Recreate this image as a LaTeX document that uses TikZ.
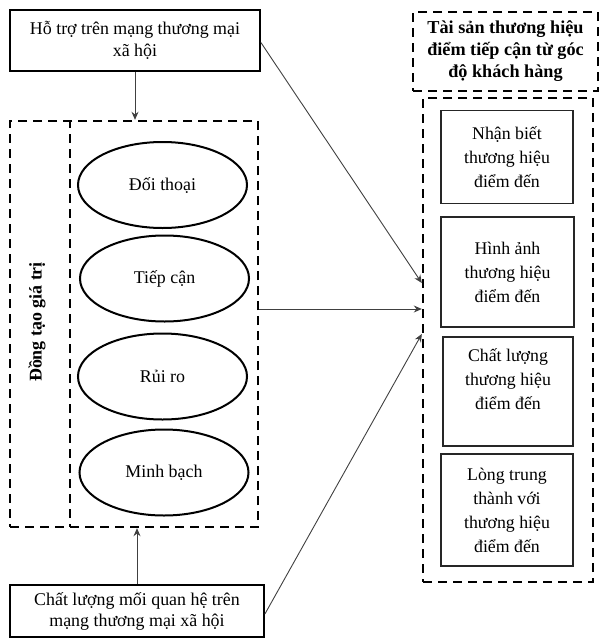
\documentclass[tikz,border=0pt]{standalone}
\usepackage{fontspec}
\setmainfont{Liberation Serif}
\usetikzlibrary{arrows.meta,shapes.geometric}
\begin{document}
\begin{tikzpicture}[x=1pt,y=-1pt,
  txt/.style={font=\fontsize{17.9}{22}\selectfont, align=center},
  solidbox/.style={draw=black, line width=1.8pt, inner sep=0pt, txt},
  thinbox/.style={draw=black!85, line width=1.1pt, inner sep=0pt, txt, font=\fontsize{17.8}{24}\selectfont},
  dbox/.style={draw=black, line width=2.4pt, dash pattern=on 9pt off 6pt, inner sep=0pt},
  oval/.style={ellipse, draw=black, line width=2pt, minimum width=169pt, minimum height=86pt, inner sep=0pt, txt},
  arr/.style={draw=black!75, line width=0.9pt, -{Stealth[length=8pt,width=7pt]}}
]
\useasboundingbox (0,0) rectangle (601,638);

% top and bottom solid boxes
\node[solidbox, minimum width=250pt, minimum height=61pt] (top) at (135,40.5)
  {Hỗ trợ trên mạng thương mại\\xã hội};
\node[solidbox, minimum width=254pt, minimum height=52pt, font=\fontsize{17.9}{21}\selectfont] (bot) at (137,611)
  {Chất lượng mối quan hệ trên\\mạng thương mại xã hội};

% left dashed boxes
\node[dbox, minimum width=248pt, minimum height=406pt] (outerL) at (134,324) {};
\node[dbox, minimum width=188pt, minimum height=406pt] (inner) at (164,324) {};
\node[rotate=90, font=\bfseries\fontsize{17.9}{22}\selectfont] (cocreate) at (37,322) {Đồng tạo giá trị};

% ellipses
\node[oval] (e1) at (162.5,185) {Đối thoại};
\node[oval] (e2) at (164.5,278.5) {Tiếp cận};
\node[oval] (e3) at (162.5,376.5) {Rủi ro};
\node[oval] (e4) at (164,472.5) {Minh bạch};

% right header
\node[dbox, minimum width=185pt, minimum height=79pt, align=center,
  font=\bfseries\fontsize{18.2}{22}\selectfont] (head) at (505.5,51.5)
  {Tài sản thương hiệu\\điểm tiếp cận từ góc\\độ khách hàng};

% right dashed box
\node[dbox, minimum width=170pt, minimum height=484pt] (rbox) at (508,340) {};

% right inner boxes
\node[thinbox, minimum width=132pt, minimum height=93pt] (b1) at (507,157)
  {Nhận biết\\thương hiệu\\điểm đến};
\node[thinbox, minimum width=133pt, minimum height=110pt] (b2) at (507.5,272)
  {Hình ảnh\\thương hiệu\\điểm đến};
\node[thinbox, minimum width=130pt, minimum height=109pt] (b3) at (508,391.5)
  {Chất lượng\\thương hiệu\\điểm đến\\\mbox{}};
\node[thinbox, minimum width=132pt, minimum height=112pt] (b4) at (507,510)
  {Lòng trung\\thành với\\thương hiệu\\điểm đến};

% connectors
\draw[arr] (top.south) -- (top.south |- inner.north);
\draw[arr] (bot.north) -- (bot.north |- inner.south);
\draw[arr] ([yshift=-2pt]top.east) -- (rbox.west |- 0,283);
\draw[arr] (inner.east |- 0,309) -- (rbox.west |- 0,309);
\draw[arr] ([yshift=-3pt]bot.east) -- (rbox.west |- 0,334);
\end{tikzpicture}
\end{document}
